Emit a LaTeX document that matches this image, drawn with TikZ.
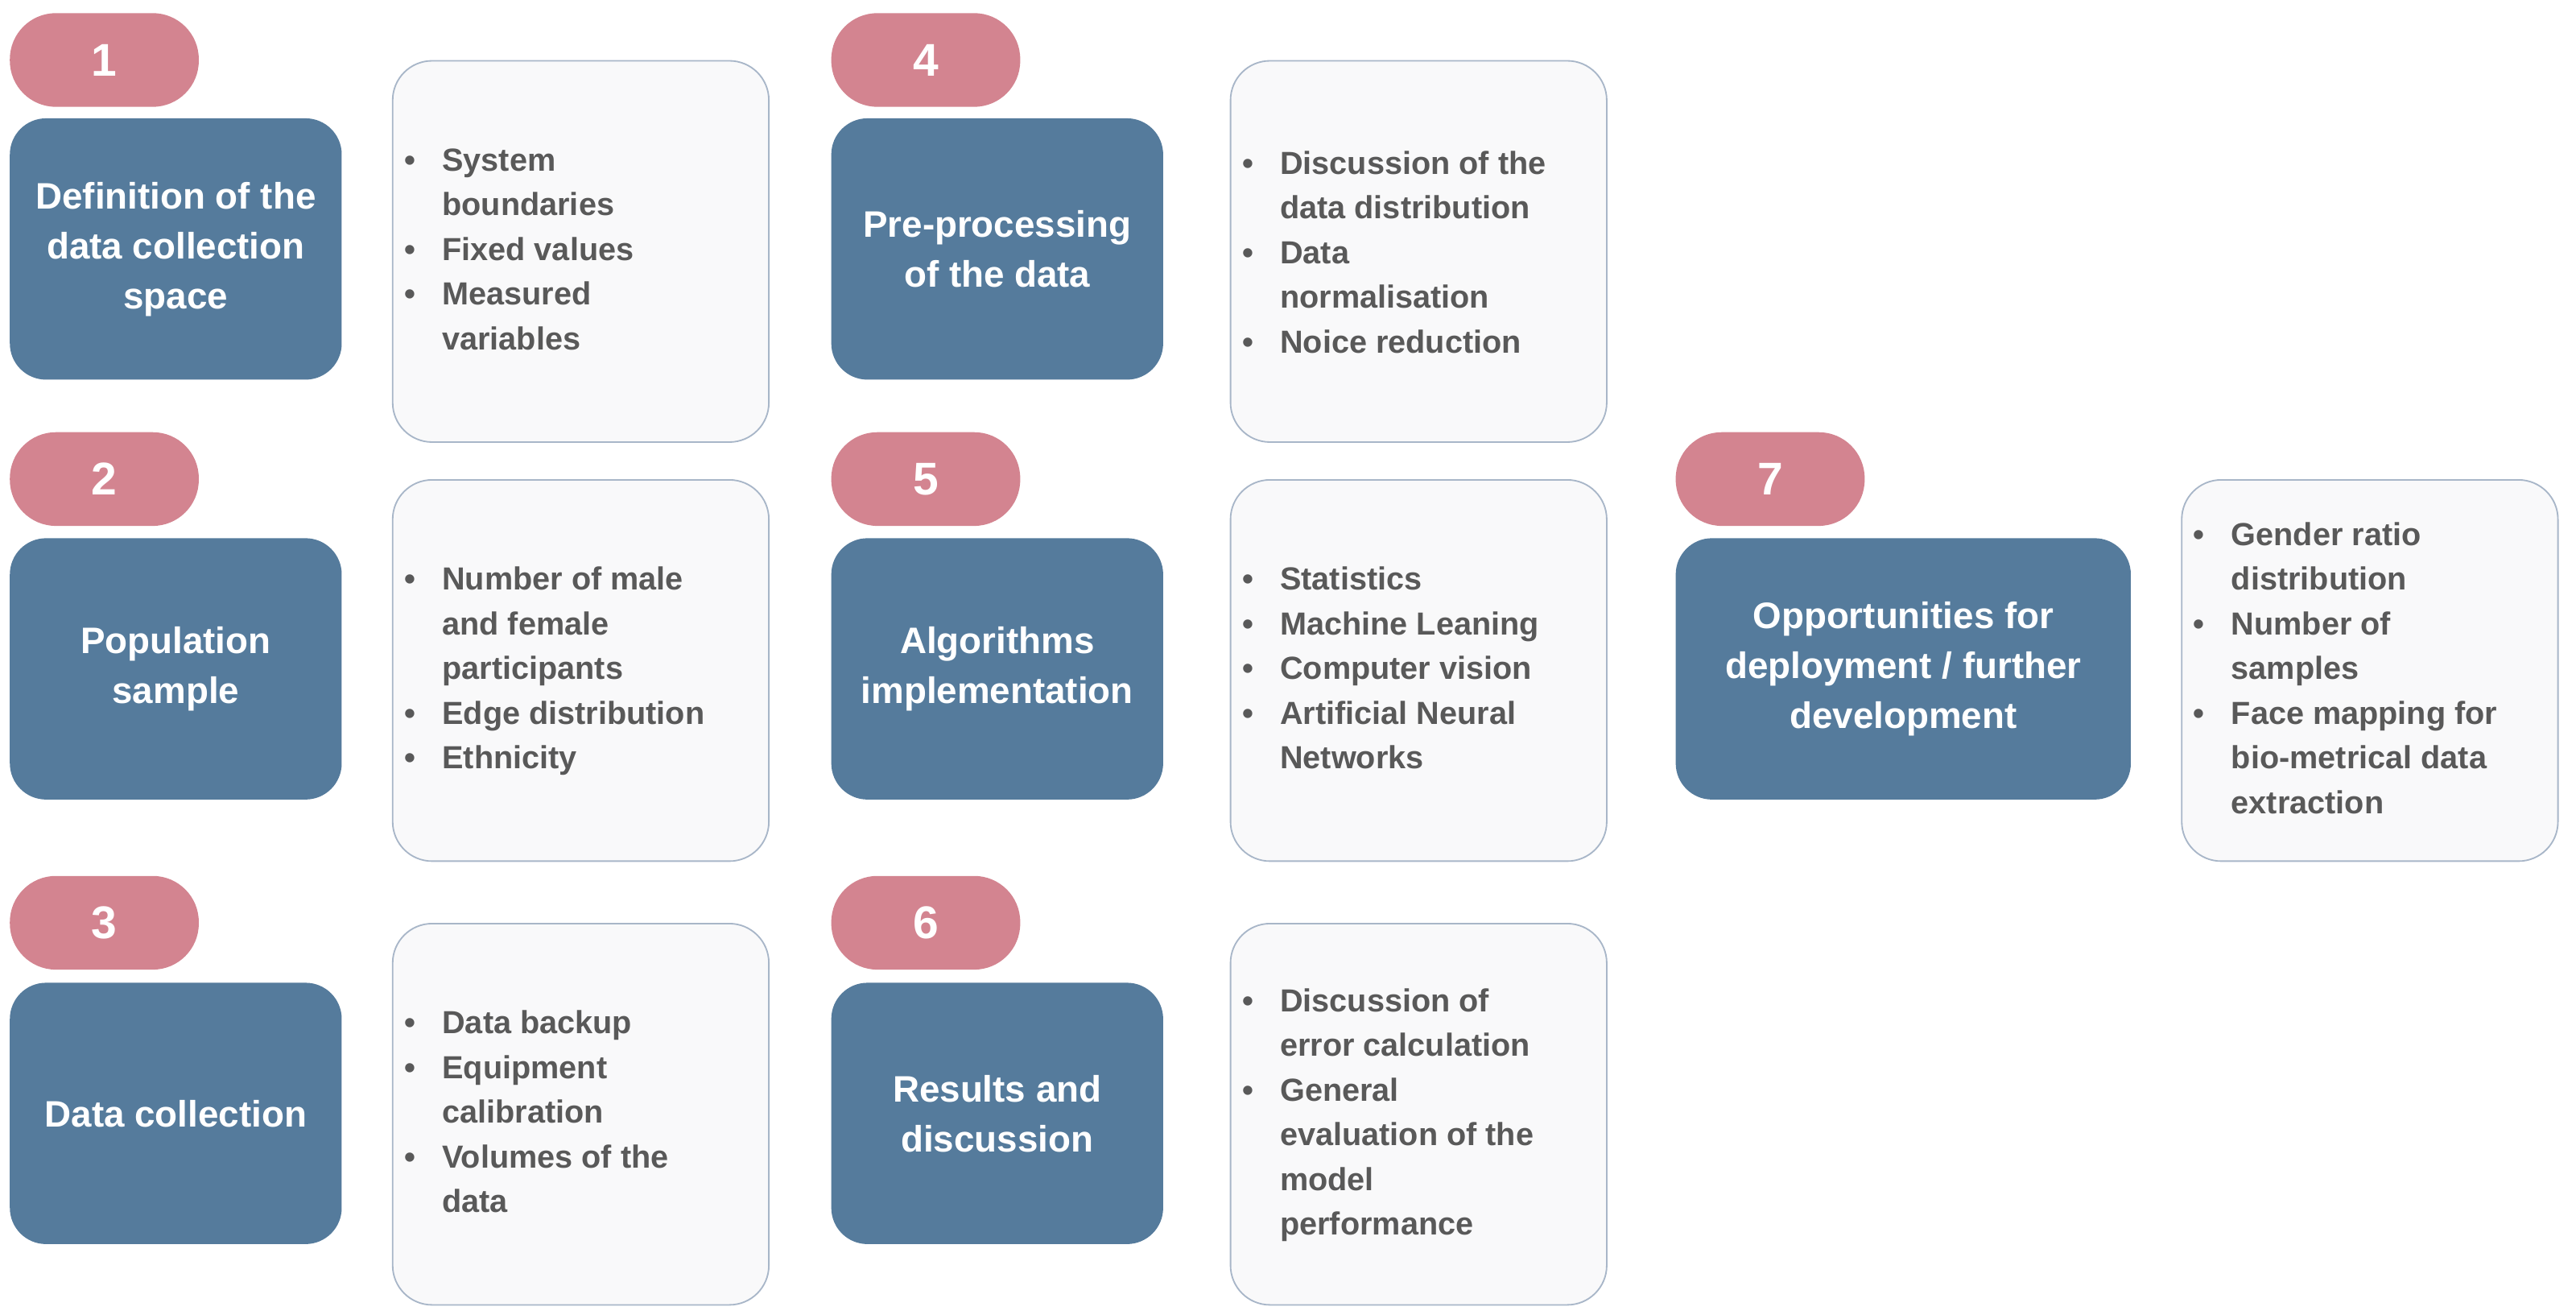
\documentclass[tikz,border=0pt]{standalone}
\usepackage{fontspec}
\setmainfont{Liberation Sans}
\definecolor{pblue}{HTML}{557B9C}
\definecolor{ppink}{HTML}{D38490}
\definecolor{pgray}{HTML}{595959}
\definecolor{pfill}{HTML}{F9F9FA}
\definecolor{pline}{HTML}{A8B6C8}
\newcommand{\bi}{\textbullet}
\begin{document}
\begin{tikzpicture}[x=1bp,y=-1bp,
 pill/.style={fill=ppink,draw=none,rounded corners=28bp,minimum width=115bp,minimum height=57bp,inner sep=0pt,text=white,font=\fontsize{28}{30}\selectfont\bfseries},
 stepbox/.style={fill=pblue,draw=none,rounded corners=22bp,minimum height=159bp,inner sep=4bp,text=white,align=center,font=\fontsize{22.5}{30.5}\selectfont\bfseries},
 info/.style={fill=pfill,draw=pline,line width=0.9bp,rounded corners=24bp,minimum width=229bp,minimum height=232bp,inner sep=0pt},
 itxt/.style={anchor=west,inner sep=0pt,text=pgray,font=\fontsize{19.5}{27.3}\selectfont\bfseries}]
\useasboundingbox (0,0) rectangle (1568,800);
\newcommand{\lst}[1]{\begin{tabular}{@{}p{23bp}@{}l@{}}#1\end{tabular}}
% column 1
\node[pill] (p1) at (63.5,36.5) {1};
\node[stepbox,minimum width=202bp] (s1) at (107,151.5) {Definition of the\\data collection\\space};
\node[info] (b1) at (353.5,153) {};
\node[itxt] (t1) at (246,153) {\lst{\bi & System\\ & boundaries\\ \bi & Fixed values\\ \bi & Measured\\ & variables}};
\node[pill] (p2) at (63.5,291.5) {2};
\node[stepbox,minimum width=202bp] (s2) at (107,407) {Population\\sample};
\node[info] (b2) at (353.5,408) {};
\node[itxt] (t2) at (246,408) {\lst{\bi & Number of male\\ & and female\\ & participants\\ \bi & Edge distribution\\ \bi & Ethnicity}};
\node[pill] (p3) at (63.5,561.5) {3};
\node[stepbox,minimum width=202bp] (s3) at (107,677.5) {Data collection};
\node[info] (b3) at (353.5,678) {};
\node[itxt] (t3) at (246,678) {\lst{\bi & Data backup\\ \bi & Equipment\\ & calibration\\ \bi & Volumes of the\\ & data}};
% column 2
\node[pill] (p4) at (563.5,36.5) {4};
\node[stepbox,minimum width=202bp] (s4) at (607,151.5) {Pre-processing\\of the data};
\node[info] (b4) at (863.5,153) {};
\node[itxt] (t4) at (756,155) {\lst{\bi & Discussion of the\\ & data distribution\\ \bi & Data\\ & normalisation\\ \bi & Noice reduction}};
\node[pill] (p5) at (563.5,291.5) {5};
\node[stepbox,minimum width=202bp] (s5) at (607,407) {Algorithms\\implementation};
\node[info] (b5) at (863.5,408) {};
\node[itxt] (t5) at (756,408) {\lst{\bi & Statistics\\ \bi & Machine Leaning\\ \bi & Computer vision\\ \bi & Artificial Neural\\ & Networks}};
\node[pill] (p6) at (563.5,561.5) {6};
\node[stepbox,minimum width=202bp] (s6) at (607,677.5) {Results and\\discussion};
\node[info] (b6) at (863.5,678) {};
\node[itxt] (t6) at (756,678) {\lst{\bi & Discussion of\\ & error calculation\\ \bi & General\\ & evaluation of the\\ & model\\ & performance}};
% column 3
\node[pill] (p7) at (1077.5,291.5) {7};
\node[stepbox,minimum width=277bp] (s7) at (1158.5,407) {Opportunities for\\deployment / further\\development};
\node[info] (b7) at (1442.5,408) {};
\node[itxt] (t7) at (1335,408) {\lst{\bi & Gender ratio\\ & distribution\\ \bi & Number of\\ & samples\\ \bi & Face mapping for\\ & bio-metrical data\\ & extraction}};
\end{tikzpicture}
\end{document}
